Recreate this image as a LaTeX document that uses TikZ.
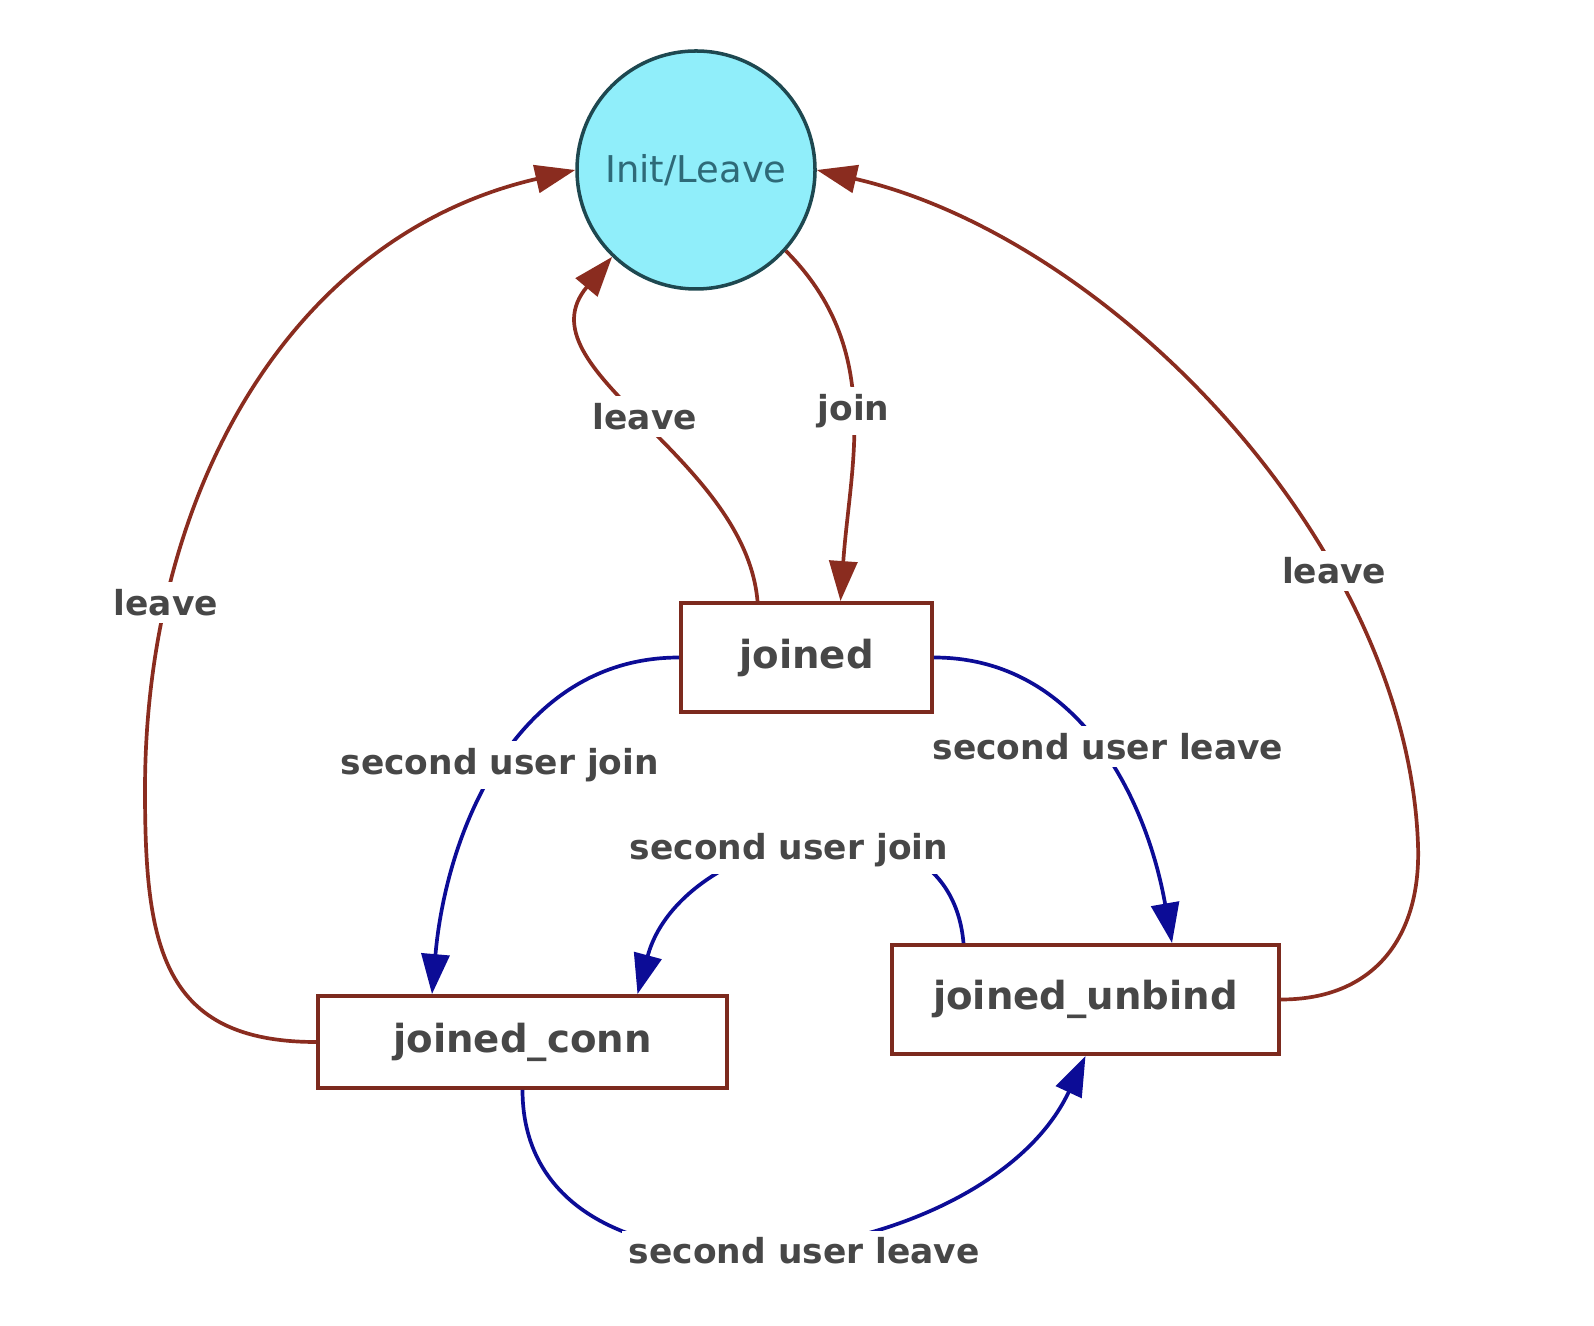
\documentclass[tikz,border=0pt]{standalone}
\usepackage{fontspec}
\setmainfont{DejaVu Sans}
\usetikzlibrary{arrows.meta}
\definecolor{edgered}{HTML}{8A2C1F}
\definecolor{edgeblue}{HTML}{0C0C96}
\definecolor{boxred}{HTML}{7C2A1E}
\definecolor{labelgrey}{HTML}{474747}
\definecolor{circfill}{HTML}{90EEFA}
\definecolor{circedge}{HTML}{1E4850}
\definecolor{circtext}{HTML}{2E6A78}

\begin{document}
\begin{tikzpicture}[
    st/.style={draw=boxred, line width=1.1pt, fill=white, inner sep=0pt,
               font=\fontsize{11}{13}\selectfont\bfseries, text=labelgrey},
    lbl/.style={fill=white, inner sep=2pt, text=labelgrey,
                font=\fontsize{9.8}{11}\selectfont\bfseries},
    redge/.style={draw=edgered, line width=1.05pt, -{Triangle[length=4mm,width=2.8mm]}},
    bedge/.style={draw=edgeblue, line width=1.05pt, -{Triangle[length=4mm,width=2.8mm]}}]
    \useasboundingbox (0,0) rectangle (15.94,-13.26);

    \node[circle, draw=circedge, fill=circfill, line width=1pt, minimum size=2.38cm,
          inner sep=0pt, text=circtext, font=\fontsize{10.5}{12}\selectfont] (init) at (6.96,-1.70) {Init/Leave};
    \node[st, minimum width=2.51cm, minimum height=1.09cm] (joined) at (8.065,-6.575) {joined};
    \node[st, minimum width=4.09cm, minimum height=0.92cm] (jc) at (5.225,-10.42) {joined\_conn};
    \node[st, minimum width=3.87cm, minimum height=1.09cm] (ju) at (10.855,-9.995) {joined\_unbind};

    \coordinate (lw) at (1.45,-7.90);
    \coordinate (rw) at (14.18,-8.45);

    \draw[redge] (jc.west) to[out=180,in=-90,looseness=1.3] (lw)
        to[out=90,in=193] node[lbl,pos=0.22] {leave} (init.west);
    \draw[redge] (ju.east) to[out=0,in=-88,looseness=1.15] (rw)
        to[out=92,in=-13,looseness=0.85] node[lbl,pos=0.31] {leave} (init.east);
    \draw[redge] ([xshift=-4.9mm]joined.north) to[out=95,in=230] node[lbl,pos=0.5] {leave} (init.226);
    \draw[redge] (init.-42) to[out=-45,in=86] node[lbl,pos=0.5] {join} ([xshift=3.4mm]joined.north);

    \draw[bedge] (joined.west) to[out=180,in=85] node[lbl,pos=0.5] {second user join} ([xshift=-9.05mm]jc.north);
    \draw[bedge] (joined.east) to[out=0,in=100] node[lbl,pos=0.5,xshift=1mm] {second user leave} ([xshift=8.65mm]ju.north);
    \draw[bedge] ([xshift=-12.2mm]ju.north) to[out=95,in=75,looseness=1.3]
        node[lbl,pos=0.55] {second user join} ([xshift=11.5mm]jc.north);
    \draw[bedge] (jc.south) to[out=-90,in=245,looseness=1.1]
        node[lbl,pos=0.55,yshift=-1mm] {second user leave} (ju.south);
\end{tikzpicture}
\end{document}
